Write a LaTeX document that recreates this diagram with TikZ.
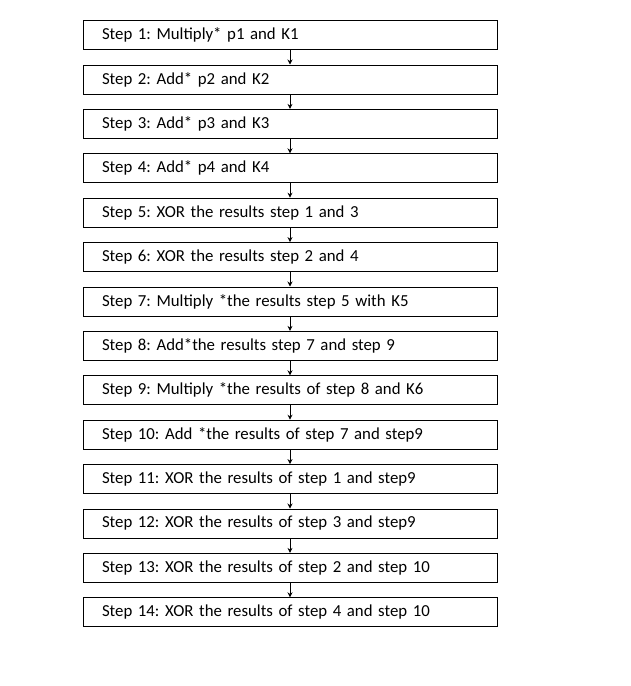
\documentclass[tikz,border=0pt]{standalone}
\usepackage{fontspec}
\setmainfont{Carlito}
\usepackage{tikz}
\usetikzlibrary{positioning,arrows.meta}

\begin{document}
\frenchspacing
\begin{tikzpicture}[
  x=1pt, y=1pt,
  stepbox/.style={draw, line width=0.8pt, minimum height=29pt, text width=376pt,
    inner xsep=19pt, inner ysep=0pt, align=left, font=\fontsize{16.8}{19}\selectfont},
  link/.style={->, line width=0.8pt},
  >={Stealth[length=5pt, width=5pt]}
]
\useasboundingbox (0,0) rectangle (630,-686);

% Steps, top to bottom
\node[stepbox] (s1) at (290,-35) {Step 1: Multiply* p1 and K1};
\node[stepbox, below=14.6pt of s1] (s2) {Step 2: Add* p2 and K2};
\node[stepbox, below=14.6pt of s2] (s3) {Step 3: Add* p3 and K3};
\node[stepbox, below=14.6pt of s3] (s4) {Step 4: Add* p4 and K4};
\node[stepbox, below=14.6pt of s4] (s5) {Step 5: XOR the results step 1 and 3};
\node[stepbox, below=14.6pt of s5] (s6) {Step 6: XOR the results step 2 and 4};
\node[stepbox, below=14.6pt of s6] (s7) {Step 7: Multiply *the results step 5 with K5};
\node[stepbox, below=14.6pt of s7] (s8) {Step 8: Add*the results step 7 and step 9};
\node[stepbox, below=14.6pt of s8] (s9) {Step 9: Multiply *the results of step 8 and K6};
\node[stepbox, below=14.6pt of s9] (s10) {Step 10: Add *the results of step 7 and step9};
\node[stepbox, below=14.6pt of s10] (s11) {Step 11: XOR the results of step 1 and step9};
\node[stepbox, below=14.6pt of s11] (s12) {Step 12: XOR the results of step 3 and step9};
\node[stepbox, below=14.6pt of s12] (s13) {Step 13: XOR the results of step 2 and step 10};
\node[stepbox, below=14.6pt of s13] (s14) {Step 14: XOR the results of step 4 and step 10};

% Arrows between steps
\foreach \a/\b in {1/2,2/3,3/4,4/5,5/6,6/7,7/8,8/9,9/10,10/11,11/12,12/13,13/14} {
  \draw[link] (s\a.south) -- (s\b.north);
}
\end{tikzpicture}
\end{document}
